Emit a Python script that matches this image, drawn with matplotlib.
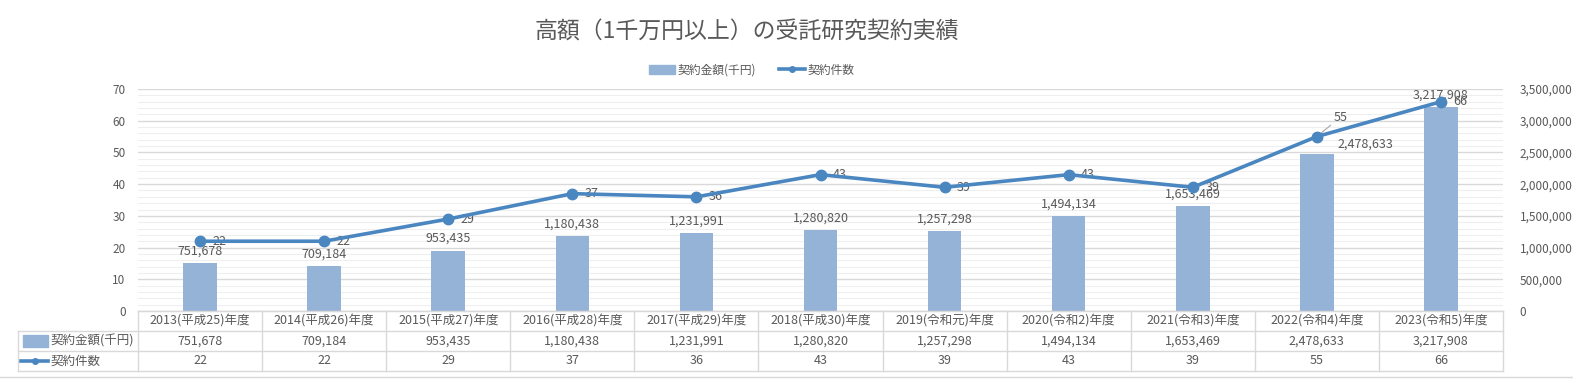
import matplotlib.pyplot as plt
from matplotlib.patches import Rectangle
from matplotlib.lines import Line2D
from matplotlib.ticker import MultipleLocator, FuncFormatter

plt.rcParams['font.family'] = ['Noto Sans CJK JP', 'DejaVu Sans']

categories = ["2013(平成25)年度", "2014(平成26)年度", "2015(平成27)年度", "2016(平成28)年度",
              "2017(平成29)年度", "2018(平成30)年度", "2019(令和元)年度", "2020(令和2)年度",
              "2021(令和3)年度", "2022(令和4)年度", "2023(令和5)年度"]
amounts = [751678, 709184, 953435, 1180438, 1231991, 1280820, 1257298, 1494134,
           1653469, 2478633, 3217908]
counts = [22, 22, 29, 37, 36, 43, 39, 43, 39, 55, 66]

bar_name = "契約金額(千円)"
line_name = "契約件数"

bar_color = "#95B3D7"
line_color = "#4A86C0"
text_color = "#595959"
grid_color = "#D9D9D9"

fig = plt.figure(figsize=(15.73, 3.79), dpi=100)
ax = fig.add_axes([138 / 1573, 1 - 311 / 379, 1365 / 1573, 222 / 379])
ax2 = ax.twinx()
x = list(range(len(categories)))

# bars on the primary axes (ticks shown on the right)
ax.bar(x, amounts, width=0.27, color=bar_color, zorder=2)
ax.set_xlim(-0.5, len(categories) - 0.5)
ax.set_ylim(0, 3500000)
ax.yaxis.set_major_locator(MultipleLocator(500000))
ax.yaxis.set_minor_locator(MultipleLocator(100000))
ax.yaxis.set_major_formatter(FuncFormatter(lambda v, p: f"{int(v):,}"))
ax.grid(axis="y", which="major", color=grid_color, lw=1)
ax.grid(axis="y", which="minor", color="#EFEFEF", lw=0.8)
ax.set_axisbelow(True)
ax.set_xticks([])
for s in ["top", "left", "right"]:
    ax.spines[s].set_visible(False)
ax.spines["bottom"].set_color(grid_color)

for i, v in enumerate(amounts):
    off = (35, 2) if i == 9 else (0, 4)
    ax.annotate(f"{v:,}", (i, v), xytext=off, textcoords="offset points",
                ha="center", va="bottom", fontsize=9, color=text_color, zorder=5)

# line on the twin axes (ticks shown on the left)
ax2.plot(x, counts, color=line_color, lw=2.6, marker="o", ms=7.5, zorder=4)
ax2.set_ylim(0, 70)
ax2.yaxis.set_major_locator(MultipleLocator(10))
for s in ["top", "left", "right", "bottom"]:
    ax2.spines[s].set_visible(False)

ax.yaxis.tick_right()
ax2.yaxis.tick_left()
ax.tick_params(axis="y", which="both", length=0, labelsize=8.5, labelcolor=text_color, pad=12)
ax2.tick_params(axis="y", which="both", length=0, labelsize=8.5, labelcolor=text_color, pad=9)

for i, v in enumerate(counts):
    if i == 9:
        ax2.annotate(str(v), (i, v), xytext=(12, 14), textcoords="offset points",
                     ha="left", va="center", fontsize=9, color=text_color,
                     arrowprops=dict(arrowstyle="-", color="#A6A6A6", lw=0.8,
                                     shrinkA=0, shrinkB=4))
    else:
        ax2.annotate(str(v), (i, v), xytext=(9, 0), textcoords="offset points",
                     ha="left", va="center", fontsize=9, color=text_color)

# data table under the plot
n = len(categories)
row_h = 20 / 222
left_frac = (18 - 138) / 1365
tkw = dict(transform=ax.transAxes, clip_on=False)
for r in range(1, 4):
    y = -r * row_h
    ax.add_line(Line2D([left_frac, 1], [y, y], color=grid_color, lw=1, **tkw))
ax.add_line(Line2D([0, 1], [0, 0], color=grid_color, lw=1, **tkw))
for k in range(n + 1):
    ax.add_line(Line2D([k / n, k / n], [0, -3 * row_h], color=grid_color, lw=1, **tkw))
ax.add_line(Line2D([left_frac, left_frac], [-row_h, -3 * row_h], color=grid_color, lw=1, **tkw))

for i in range(n):
    cx = (i + 0.5) / n
    ax.text(cx, -0.5 * row_h, categories[i], ha="center", va="center", fontsize=9,
            color=text_color, transform=ax.transAxes)
    ax.text(cx, -1.5 * row_h, f"{amounts[i]:,}", ha="center", va="center", fontsize=9,
            color=text_color, transform=ax.transAxes)
    ax.text(cx, -2.5 * row_h, str(counts[i]), ha="center", va="center", fontsize=9,
            color=text_color, transform=ax.transAxes)

sw0 = (23 - 138) / 1365
sw1 = (48 - 138) / 1365
ax.add_patch(Rectangle((sw0, -1.5 * row_h - 0.025), sw1 - sw0, 0.05, color=bar_color, **tkw))
ax.add_line(Line2D([(21 - 138) / 1365, sw1], [-2.5 * row_h] * 2, color=line_color, lw=2.6, **tkw))
ax.add_line(Line2D([(35 - 138) / 1365], [-2.5 * row_h], color=line_color, marker="o", ms=4, **tkw))
ax.text((50 - 138) / 1365, -1.5 * row_h, bar_name, ha="left", va="center", fontsize=9,
        color=text_color, transform=ax.transAxes)
ax.text((50 - 138) / 1365, -2.5 * row_h, line_name, ha="left", va="center", fontsize=9,
        color=text_color, transform=ax.transAxes)

# title and legend
fig.text(0.475, 1 - 32 / 379, "高額（1千万円以上）の受託研究契約実績", ha="center", va="center",
         fontsize=16.5, color=text_color)
handles = [Rectangle((0, 0), 1, 1, color=bar_color),
           Line2D([0], [0], color=line_color, lw=2.6, marker="o", ms=4)]
fig.legend(handles, [bar_name, line_name], loc="center", bbox_to_anchor=(0.478, 1 - 70 / 379),
           ncol=2, frameon=False, fontsize=8.5, labelcolor=text_color, handlelength=2.2,
           handletextpad=0.2, columnspacing=2.0)

fig.add_artist(Line2D([0, 1], [1 - 377 / 379] * 2, color=grid_color, lw=1,
                      transform=fig.transFigure))

fig.savefig("out.png", dpi=100)
